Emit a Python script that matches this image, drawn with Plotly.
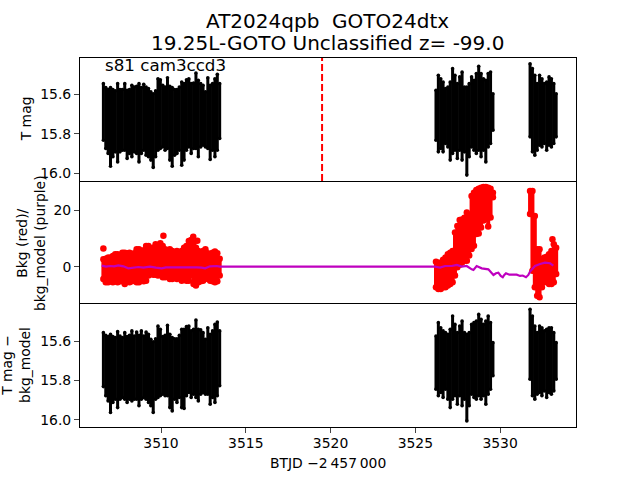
"""TESS light curve panels: magnitude, background and detrended magnitude."""

import plotly.graph_objects as go
from plotly.subplots import make_subplots

# ── Times of the sampled columns ───────────────────────────────────────────
BTJD = [
    3506.60, 3506.74, 3506.88, 3507.02, 3507.16, 3507.30, 3507.44, 3507.58, 3507.72, 3507.86,
    3508.00, 3508.14, 3508.28, 3508.42, 3508.56, 3508.70, 3508.84, 3508.98, 3509.12, 3509.26,
    3509.40, 3509.54, 3509.68, 3509.82, 3509.96, 3510.10, 3510.24, 3510.38, 3510.52, 3510.66,
    3510.80, 3510.94, 3511.08, 3511.22, 3511.36, 3511.50, 3511.64, 3511.78, 3511.92, 3512.06,
    3512.20, 3512.34, 3512.48, 3512.62, 3512.76, 3512.90, 3513.04, 3513.18, 3513.32, 3513.46,
    3526.22, 3526.36, 3526.50, 3526.64, 3526.78, 3526.92, 3527.06, 3527.20, 3527.34, 3527.48,
    3527.62, 3527.76, 3527.90, 3528.04, 3528.18, 3528.32, 3528.46, 3528.60, 3528.74, 3528.88,
    3529.02, 3529.16, 3529.30, 3529.44, 3529.58,
    3531.77, 3531.91, 3532.05, 3532.19, 3532.33, 3532.47, 3532.61, 3532.75, 3532.89, 3533.03,
    3533.17, 3533.31,
]

# ── T mag, brightest and faintest point per column ─────────────────────────
MAG_BRIGHT = [
    15.546, 15.566, 15.576, 15.566, 15.576, 15.583, 15.546, 15.576, 15.576, 15.546,
    15.580, 15.576, 15.554, 15.563, 15.559, 15.546, 15.566, 15.549, 15.563, 15.571,
    15.588, 15.597, 15.583, 15.521, 15.526, 15.554, 15.563, 15.516, 15.559, 15.566,
    15.576, 15.576, 15.563, 15.538, 15.546, 15.526, 15.521, 15.546, 15.543, 15.492,
    15.529, 15.546, 15.554, 15.588, 15.516, 15.554, 15.546, 15.521, 15.499, 15.546,
    15.580, 15.504, 15.521, 15.538, 15.571, 15.563, 15.538, 15.470, 15.504, 15.546,
    15.512, 15.487, 15.563, 15.563, 15.546, 15.512, 15.529, 15.495, 15.458, 15.495,
    15.521, 15.529, 15.495, 15.487, 15.597,
    15.445, 15.470, 15.504, 15.546, 15.504, 15.521, 15.546, 15.538, 15.512, 15.521,
    15.546, 15.597,
]
MAG_FAINT = [
    15.833, 15.875, 15.900, 15.965, 15.917, 15.892, 15.943, 15.892, 15.884, 15.884,
    15.926, 15.900, 15.917, 15.892, 15.900, 15.943, 15.900, 15.884, 15.909, 15.917,
    15.934, 15.971, 15.917, 15.884, 15.875, 15.867, 15.884, 15.875, 15.934, 15.965,
    15.909, 15.900, 15.884, 15.960, 15.934, 15.884, 15.867, 15.900, 15.875, 15.875,
    15.917, 15.867, 15.858, 15.867, 15.875, 15.931, 15.884, 15.917, 15.884, 15.824,
    15.833, 15.892, 15.875, 15.892, 15.850, 15.867, 15.934, 15.900, 15.884, 15.926,
    15.884, 15.934, 15.892, 16.010, 15.917, 15.867, 15.884, 15.900, 15.884, 15.917,
    15.884, 15.943, 15.867, 15.850, 15.782,
    15.816, 15.892, 15.909, 15.884, 15.858, 15.867, 15.850, 15.884, 15.858, 15.867,
    15.850, 15.816,
]

# ── Background, highest and lowest point per column ────────────────────────
BKG_HIGH = [
    2.7, 2.9, 3.3, 3.3, 3.9, 4.5, 4.5, 3.6, 5.0, 5.0,
    4.8, 5.0, 4.5, 4.8, 6.2, 6.2, 5.6, 5.9, 7.4, 7.4,
    5.6, 6.8, 8.0, 7.4, 8.3, 7.4, 6.2, 5.6, 6.2, 5.6,
    5.0, 5.6, 5.0, 5.6, 6.8, 7.4, 9.1, 9.5, 8.5, 6.8,
    5.6, 5.0, 5.6, 6.2, 4.8, 4.5, 5.0, 5.4, 4.8, 2.9,
    1.8, 1.5, 1.5, 2.5, 3.3, 4.5, 5.0, 5.6, 12.1, 14.4,
    16.5, 16.7, 17.3, 19.1, 17.9, 24.9, 26.1, 27.0, 27.5, 27.8,
    28.1, 28.1, 27.8, 27.5, 26.1,
    26.7, 26.7, 17.9, 6.2, 6.2, 2.7, 3.3, 3.6, 4.5, 5.6,
    8.0, 6.8,
]
BKG_LOW = [
    -4.2, -5.4, -5.4, -5.0, -5.4, -5.0, -5.4, -5.0, -5.0, -6.0,
    -5.0, -5.4, -5.0, -4.8, -5.4, -5.4, -4.8, -5.0, -4.8, -3.0,
    -2.5, -2.7, -2.7, -3.0, -2.5, -3.6, -3.6, -3.0, -4.2, -4.2,
    -3.6, -4.2, -3.6, -4.8, -4.2, -4.8, -4.8, -3.0, -6.0, -6.5,
    -5.4, -5.0, -4.8, -3.6, -4.2, -4.8, -5.0, -5.4, -5.0, -3.0,
    -7.1, -7.7, -7.7, -7.1, -7.1, -6.5, -6.0, -5.4, -3.0, -0.1,
    0.8, 1.6, 2.2, 2.2, 4.0, 6.3, 7.5, 11.6, 11.8, 13.9,
    16.3, 16.9, 14.2, 17.4, 24.5,
    18.6, -1.3, -7.1, -10.1, -10.6, -7.1, -5.4, -4.8, -6.0, -6.0,
    -5.4, -2.5,
]
BKG_STRAY_T = [3506.6, 3510.14, 3511.9, 3512.14, 3533.09]
BKG_STRAY = [6.5, 11.0, 10.6, 9.2, 9.7]

# ── Background model ───────────────────────────────────────────────────────
MODEL_T = [
    3506.5, 3506.75, 3507.0, 3507.23, 3507.48, 3507.78, 3508.07, 3508.37, 3508.66, 3508.96,
    3509.35, 3509.7, 3510.04, 3510.29, 3510.53, 3510.92, 3511.32, 3511.71, 3512.1, 3512.4,
    3512.6, 3512.89, 3513.09, 3513.28, 3513.48,
    3526.17, 3526.46, 3526.76, 3527.15, 3527.45, 3527.74, 3528.03, 3528.33, 3528.43, 3528.62,
    3528.92, 3529.31, 3529.61, 3529.76, 3529.9, 3530.04, 3530.16, 3530.25, 3530.35, 3530.55,
    3530.78, 3530.98, 3531.18, 3531.34, 3531.53, 3531.67, 3531.77, 3531.91, 3532.06, 3532.36,
    3532.65, 3532.95, 3533.14,
]
MODEL = [
    0.47, 0.12, 0.35, 0.24, 0.59, 0.24, -0.47, -0.12, 0.0, -0.23,
    0.12, -0.23, -0.47, -0.12, -0.12, 0.0, -0.12, 0.12, -0.12, -0.23,
    -0.47, 0.24, 0.35, 0.35, 0.12,
    0.12, -0.23, 0.35, 0.35, 0.7, 0.12, 0.35, -0.82, -1.05, 0.35,
    -0.47, -0.82, -2.8, -2.2, -2.0, -3.15, -3.6, -2.8, -2.2, -2.7,
    -2.8, -2.7, -3.15, -3.0, -3.6, -2.8, -1.6, -0.47, 0.35, 1.06,
    1.5, 1.3, 0.47,
]

# ── T mag minus model, brightest and faintest point per column ─────────────
DETREND_BRIGHT = [
    15.556, 15.570, 15.576, 15.564, 15.576, 15.581, 15.551, 15.573, 15.581, 15.556,
    15.576, 15.570, 15.547, 15.573, 15.553, 15.570, 15.547, 15.573, 15.553, 15.564,
    15.590, 15.603, 15.587, 15.522, 15.539, 15.576, 15.570, 15.519, 15.564, 15.581,
    15.587, 15.587, 15.570, 15.539, 15.539, 15.525, 15.522, 15.547, 15.539, 15.492,
    15.539, 15.542, 15.556, 15.590, 15.531, 15.564, 15.547, 15.514, 15.502, 15.547,
    15.573, 15.505, 15.531, 15.547, 15.556, 15.564, 15.539, 15.471, 15.514, 15.556,
    15.522, 15.497, 15.556, 15.564, 15.556, 15.514, 15.505, 15.497, 15.463, 15.488,
    15.514, 15.497, 15.471, 15.505, 15.607,
    15.437, 15.471, 15.522, 15.556, 15.522, 15.531, 15.547, 15.539, 15.531, 15.531,
    15.556, 15.607,
]
DETREND_FAINT = [
    15.831, 15.878, 15.904, 15.963, 15.912, 15.895, 15.938, 15.895, 15.887, 15.895,
    15.912, 15.895, 15.904, 15.895, 15.895, 15.929, 15.895, 15.887, 15.895, 15.912,
    15.929, 15.963, 15.895, 15.887, 15.878, 15.870, 15.878, 15.878, 15.938, 15.955,
    15.895, 15.912, 15.887, 15.938, 15.943, 15.878, 15.861, 15.887, 15.870, 15.887,
    15.904, 15.870, 15.861, 15.870, 15.870, 15.921, 15.887, 15.912, 15.878, 15.827,
    15.844, 15.878, 15.861, 15.887, 15.844, 15.895, 15.938, 15.895, 15.878, 15.921,
    15.878, 15.929, 15.895, 16.006, 15.929, 15.870, 15.887, 15.895, 15.878, 15.895,
    15.878, 15.921, 15.870, 15.844, 15.776,
    15.793, 15.878, 15.895, 15.870, 15.861, 15.878, 15.853, 15.887, 15.861, 15.870,
    15.853, 15.793,
]

EVENT_T = [3519.5, 3519.5]
MAG_RANGE = [16.04, 15.416]
BKG_RANGE = [-13.0, 30.2]
DETREND_RANGE = [16.037, 15.41]
X_RANGE = [3505.22, 3534.48]

FONT = "DejaVu Sans"
MODEL_COLOR = "#BF00BF"


def _columns(times, lows, highs):
    """One vertical stroke per time, split by gaps."""
    xs, ys = [], []
    for t, lo, hi in zip(times, lows, highs):
        xs += [t, t, None]
        ys += [lo, hi, None]
    return xs, ys


def _add_columns(fig, row, lows, highs, color, width, size):
    xs, ys = _columns(BTJD, lows, highs)
    fig.add_trace(go.Scatter(
        x=xs, y=ys, mode="lines+markers",
        line=dict(color=color, width=width),
        marker=dict(color=color, size=size),
        showlegend=False,
    ), row=row, col=1)


fig = make_subplots(rows=3, cols=1, shared_xaxes=True, vertical_spacing=0)

_add_columns(fig, 1, MAG_FAINT, MAG_BRIGHT, "black", 3, 3.6)
fig.add_trace(go.Scatter(
    x=EVENT_T, y=MAG_RANGE, mode="lines",
    line=dict(color="#FF0000", width=2, dash="7px,3px"),
    showlegend=False,
), row=1, col=1)

_add_columns(fig, 2, BKG_LOW, BKG_HIGH, "#FF0000", 4, 6.5)
fig.add_trace(go.Scatter(
    x=BKG_STRAY_T, y=BKG_STRAY, mode="markers",
    marker=dict(color="#FF0000", size=6.5),
    showlegend=False,
), row=2, col=1)
fig.add_trace(go.Scatter(
    x=MODEL_T, y=MODEL, mode="lines",
    line=dict(color=MODEL_COLOR, width=2.2),
    showlegend=False,
), row=2, col=1)

_add_columns(fig, 3, DETREND_FAINT, DETREND_BRIGHT, "black", 3, 3.6)

axis_style = dict(
    showgrid=False, zeroline=False, showline=True, mirror=True,
    linecolor="black", linewidth=1,
    tickfont=dict(family=FONT, size=13.9, color="black"),
)
fig.update_xaxes(range=X_RANGE, **axis_style)
fig.update_xaxes(ticks="", showticklabels=False, row=1, col=1)
# the panels above and below already draw both of this panel's edges
fig.update_xaxes(ticks="", showticklabels=False, showline=False, row=2, col=1)
fig.update_xaxes(
    ticks="outside", ticklen=5, tickwidth=1, showticklabels=True,
    ticklabelstandoff=-2,
    tickvals=[3510, 3515, 3520, 3525, 3530], row=3, col=1,
)
fig.update_yaxes(ticks="outside", ticklen=5, tickwidth=1, **axis_style)
fig.update_yaxes(range=MAG_RANGE, tickvals=[15.6, 15.8, 16.0],
                 ticktext=["15.6", "15.8", "16.0"], row=1, col=1)
fig.update_yaxes(range=BKG_RANGE, tickvals=[0, 20], row=2, col=1)
fig.update_yaxes(range=DETREND_RANGE, tickvals=[15.6, 15.8, 16.0],
                 ticktext=["15.6", "15.8", "16.0"], row=3, col=1)

fig.update_layout(
    width=640, height=480, autosize=False,
    margin=dict(l=80, r=64, t=57.6, b=52.8, pad=0),
    plot_bgcolor="white", paper_bgcolor="white",
    font=dict(family=FONT, color="black"),
)

# text, window x, window y, size, angle, anchor
notes = [
    ("AT2024qpb  GOTO24dtx", 327.5, 20.5, 20, 0, "center"),
    ("19.25L-GOTO Unclassified z= -99.0", 327.5, 42.5, 20, 0, "center"),
    ("s81 cam3ccd3", 103, 65, 16.7, 0, "left"),
    ("T mag", 26, 119, 13.9, -90, "center"),
    ("Bkg (red)/<br>bkg_model (purple)", 31, 243, 13.9, -90, "center"),
    ("T mag \u2212<br>bkg_model", 16, 365, 13.9, -90, "center"),
    ("BTJD \u22122\u2009457\u2009000", 328, 463, 13.9, 0, "center"),
]
for text, x, y, size, angle, anchor in notes:
    fig.add_annotation(
        text=text, x=(x - 80) / 496, y=(427.2 - y) / 369.6, xref="paper", yref="paper",
        showarrow=False, textangle=angle, xanchor=anchor, yanchor="middle",
        font=dict(family=FONT, size=size, color="black"),
    )

fig.write_html(
    "out.html",
    config={"displayModeBar": False},
    post_script="document.body.style.margin='0';",
)
